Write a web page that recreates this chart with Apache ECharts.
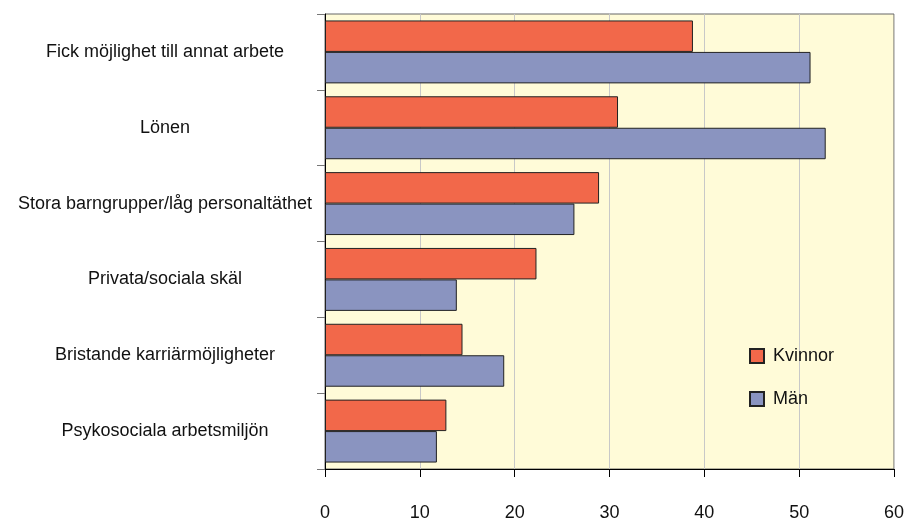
<!DOCTYPE html>
<html lang="sv">
<head>
    <meta charset="utf-8" />
    <title></title>
    <script src="https://cdn.jsdelivr.net/npm/echarts@6/dist/echarts.min.js"></script>
</head>
<body style="margin:0;background:#fff;">
    <div id="main" style="width:907px;height:522px;"></div>
    <script type="text/javascript">
        var categories = ['Fick möjlighet till annat arbete', 'Lönen', 'Stora barngrupper/låg personaltäthet',
            'Privata/sociala skäl', 'Bristande karriärmöjligheter', 'Psykosociala arbetsmiljön'];
        var kvinnor = [38.8, 30.9, 28.9, 22.3, 14.5, 12.8];
        var man = [51.2, 52.8, 26.3, 13.9, 18.9, 11.8];

        var myChart = echarts.init(document.getElementById('main'));
        var font = 'Liberation Sans, Arial, sans-serif';
        var option = {
            animation: false,
            grid: {
                left: 325, right: 12, top: 14, bottom: 52,
                show: true, backgroundColor: '#FFFBD8', borderColor: '#666', borderWidth: 1
            },
            legend: {
                orient: 'vertical',
                left: 744, top: 342,
                icon: 'rect',
                itemWidth: 14, itemHeight: 14, itemGap: 25,
                textStyle: { fontFamily: font, fontSize: 18, color: '#111', padding: [0, 0, 0, 4] },
                data: ['Kvinnor', 'Män']
            },
            xAxis: {
                type: 'value', min: 0, max: 60, interval: 10,
                axisLine: { show: true, lineStyle: { color: '#000' } },
                axisTick: { show: true, length: 8, lineStyle: { color: '#000' } },
                axisLabel: { margin: 35, fontFamily: font, fontSize: 18, color: '#111' },
                splitLine: { show: true, lineStyle: { color: '#C8C8C8' } }
            },
            yAxis: {
                type: 'category', inverse: true, data: categories,
                axisLine: { show: true, lineStyle: { color: '#000' } },
                axisTick: { show: true, length: 8, lineStyle: { color: '#777' } },
                axisLabel: { margin: 160, align: 'center', fontFamily: font, fontSize: 18, color: '#111',
                    padding: [0, 0, 6, 0] }
            },
            series: [
                {
                    name: 'Kvinnor', type: 'bar', data: kvinnor,
                    barGap: '0%', barCategoryGap: '17%',
                    itemStyle: { color: '#F2684A', borderColor: '#222', borderWidth: 1 }
                },
                {
                    name: 'Män', type: 'bar', data: man,
                    itemStyle: { color: '#8A94C0', borderColor: '#222', borderWidth: 1 }
                }
            ]
        };
        myChart.setOption(option);
    </script>
</body>
</html>
